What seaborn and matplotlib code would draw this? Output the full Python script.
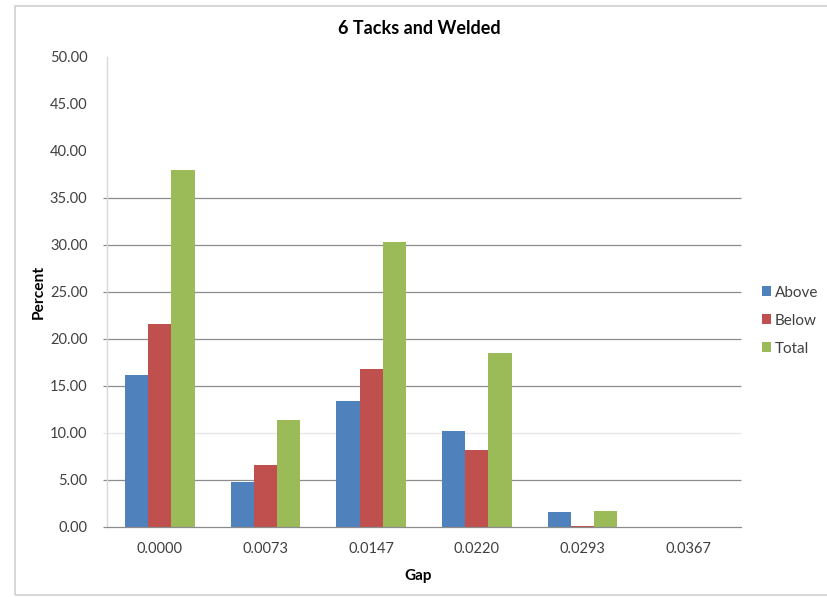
import matplotlib
matplotlib.use("Agg")
import matplotlib.pyplot as plt
from matplotlib.patches import Rectangle
import seaborn as sns
import pandas as pd

# Gap categories and percentage of parts for each series
gaps = ["0.0000", "0.0073", "0.0147", "0.0220", "0.0293", "0.0367"]
above = [16.1, 4.7, 13.4, 10.2, 1.55, 0.0]
below = [21.6, 6.6, 16.8, 8.2, 0.08, 0.0]
total = [37.9, 11.35, 30.3, 18.45, 1.62, 0.0]
series = ["Above", "Below", "Total"]
colors = ["#4F81BD", "#C0504D", "#9BBB59"]
y_ticks = [0, 5, 10, 15, 20, 25, 30, 35, 40, 45, 50]
grid_levels = [5, 15, 20, 25, 30, 35]
faint_levels = [10]

df = pd.DataFrame({
    "Gap": gaps * 3,
    "Percent": above + below + total,
    "Series": [s for s in series for _ in gaps],
})

sns.set_theme(style="white")
plt.rcParams["font.family"] = ["Lato", "DejaVu Sans"]

fig = plt.figure(figsize=(8.28, 5.97), dpi=100)
ax = fig.add_axes([0.1292, 0.1178, 0.7657, 0.7872])

# Horizontal gridlines drawn behind the bars
for lv in grid_levels:
    ax.hlines(lv, -0.54, 5.5, color="#8C8C8C", lw=0.9, zorder=0, clip_on=False)
for lv in faint_levels:
    ax.hlines(lv, -0.54, 5.5, color="#E6E6E6", lw=0.9, zorder=0, clip_on=False)

sns.barplot(data=df, x="Gap", y="Percent", hue="Series", palette=colors,
            width=0.66, gap=0, saturation=1, ax=ax, zorder=2,
            edgecolor="none", linewidth=0)

ax.set_xlim(-0.5, 5.5)
ax.set_ylim(0, 50)
ax.set_yticks(y_ticks)
ax.set_yticklabels([f"{v:.2f}" for v in y_ticks])
ax.tick_params(axis="both", length=0, labelsize=10.5, colors="#404040")
ax.tick_params(axis="y", pad=14)
ax.tick_params(axis="x", pad=11)

for side in ["top", "right"]:
    ax.spines[side].set_visible(False)
ax.spines["left"].set_color("#D9D9D9")
ax.spines["left"].set_linewidth(1.0)
ax.spines["bottom"].set_color("#8C8C8C")
ax.spines["bottom"].set_linewidth(0.9)
ax.hlines(0, -0.54, -0.5, color="#8C8C8C", lw=0.9, clip_on=False)

ax.set_xlabel("Gap", fontsize=11, fontweight="bold", color="#000000")
ax.set_ylabel("Percent", fontsize=11.2, fontweight="bold", color="#000000")
ax.yaxis.set_label_coords(-0.096, 0.5)
ax.xaxis.set_label_coords(0.49, -0.09)

fig.text(0.507, 0.952, "6 Tacks and Welded", ha="center", va="center",
         fontsize=13, fontweight="bold", color="#000000")

handles, labels = ax.get_legend_handles_labels()
ax.legend_.remove()
fig.legend(handles, labels, loc="upper left", bbox_to_anchor=(0.913, 0.532),
           frameon=False, fontsize=11, handlelength=0.6, handleheight=0.6,
           handletextpad=0.25, labelspacing=0.92, borderaxespad=0)
for t in fig.legends[0].get_texts():
    t.set_color("#404040")

# Chart area frame
fig.patches.append(Rectangle((15 / 828, 2 / 597), 1.0, 589 / 597,
                             transform=fig.transFigure, fill=False,
                             edgecolor="#D0D0D0", lw=1.2, zorder=0))

fig.savefig("out.png", dpi=100)
